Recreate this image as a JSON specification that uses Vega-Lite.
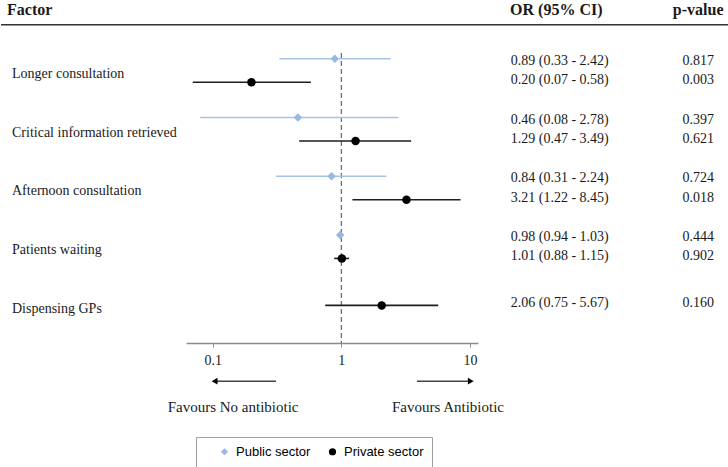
{
  "$schema": "https://vega.github.io/schema/vega-lite/v6.json",
  "padding": 0,
  "background": "white",
  "spacing": 0,
  "bounds": "flush",
  "resolve": {"scale": {"x": "independent", "y": "independent"}},
  "config": {
    "view": {"stroke": null},
    "font": "Liberation Serif",
    "text": {"font": "Liberation Serif", "fontSize": 14, "color": "#1a1a1a"}
  },
  "datasets": {
    "est": [
      {"factor": "Longer consultation", "sector": "Public sector", "row": 0.8, "or": 0.89, "lo": 0.33, "hi": 2.42, "ci": "0.89 (0.33 - 2.42)", "p": "0.817"},
      {"factor": "Longer consultation", "sector": "Private sector", "row": 1.2, "or": 0.20, "lo": 0.07, "hi": 0.58, "ci": "0.20 (0.07 - 0.58)", "p": "0.003"},
      {"factor": "Critical information retrieved", "sector": "Public sector", "row": 1.8, "or": 0.46, "lo": 0.08, "hi": 2.78, "ci": "0.46 (0.08 - 2.78)", "p": "0.397"},
      {"factor": "Critical information retrieved", "sector": "Private sector", "row": 2.2, "or": 1.29, "lo": 0.47, "hi": 3.49, "ci": "1.29 (0.47 - 3.49)", "p": "0.621"},
      {"factor": "Afternoon consultation", "sector": "Public sector", "row": 2.8, "or": 0.84, "lo": 0.31, "hi": 2.24, "ci": "0.84 (0.31 - 2.24)", "p": "0.724"},
      {"factor": "Afternoon consultation", "sector": "Private sector", "row": 3.2, "or": 3.21, "lo": 1.22, "hi": 8.45, "ci": "3.21 (1.22 - 8.45)", "p": "0.018"},
      {"factor": "Patients waiting", "sector": "Public sector", "row": 3.8, "or": 0.98, "lo": 0.94, "hi": 1.03, "ci": "0.98 (0.94 - 1.03)", "p": "0.444"},
      {"factor": "Patients waiting", "sector": "Private sector", "row": 4.2, "or": 1.01, "lo": 0.88, "hi": 1.15, "ci": "1.01 (0.88 - 1.15)", "p": "0.902"},
      {"factor": "Dispensing GPs", "sector": "Private sector", "row": 5.0, "or": 2.06, "lo": 0.75, "hi": 5.67, "ci": "2.06 (0.75 - 5.67)", "p": "0.160"}
    ],
    "groups": [
      {"factor": "Longer consultation", "row": 1},
      {"factor": "Critical information retrieved", "row": 2},
      {"factor": "Afternoon consultation", "row": 3},
      {"factor": "Patients waiting", "row": 4},
      {"factor": "Dispensing GPs", "row": 5}
    ],
    "one": [{}]
  },
  "hconcat": [
    {
      "width": 185,
      "height": 343,
      "layer": [
        {
          "data": {"name": "one"},
          "mark": {"type": "rule", "color": "#333333", "strokeWidth": 1.5},
          "encoding": {"y": {"datum": 0.22, "type": "quantitative", "scale": {"domain": [-0.201, 5.64], "reverse": true, "nice": false, "zero": false}, "axis": null}}
        },
        {
          "data": {"name": "one"},
          "mark": {"type": "text", "align": "left", "baseline": "middle", "fontWeight": "bold", "fontSize": 16, "dx": 6, "dy": -2},
          "encoding": {
            "x": {"datum": 0, "type": "quantitative", "scale": {"domain": [0, 1]}, "axis": null},
            "y": {"datum": 0, "type": "quantitative"},
            "text": {"value": "Factor"}
          }
        },
        {
          "data": {"name": "groups"},
          "mark": {"type": "text", "align": "left", "baseline": "middle", "dx": 11, "dy": 3.5},
          "encoding": {
            "x": {"datum": 0, "type": "quantitative", "scale": {"domain": [0, 1]}, "axis": null},
            "y": {"field": "row", "type": "quantitative"},
            "text": {"field": "factor"}
          }
        }
      ]
    },
    {
      "width": 292,
      "height": 343,
      "layer": [
        {
          "data": {"name": "one"},
          "mark": {"type": "rule", "color": "#333333", "strokeWidth": 1.5},
          "encoding": {"y": {"datum": 0.22, "type": "quantitative", "scale": {"domain": [-0.201, 5.64], "reverse": true, "nice": false, "zero": false}, "axis": null}}
        },
        {
          "data": {"name": "one"},
          "mark": {"type": "rule", "color": "#666666", "strokeWidth": 1.2, "strokeDash": [5, 3]},
          "encoding": {
            "x": {"datum": 1, "type": "quantitative", "scale": {"type": "log", "domain": [0.062, 11.55], "nice": false},
              "axis": {"values": [0.1, 1, 10], "format": "~g", "title": null, "grid": false, "domainColor": "#8c8c8c", "domainWidth": 1.5, "tickColor": "#8c8c8c", "tickSize": 4, "labelFont": "Liberation Serif", "labelFontSize": 14, "labelColor": "#222222", "labelPadding": 6, "labelFlush": false}},
            "y": {"datum": 0.7, "type": "quantitative"},
            "y2": {"datum": 5.64}
          }
        },
        {
          "data": {"name": "est"},
          "transform": [{"filter": "datum.sector == 'Public sector'"}],
          "mark": {"type": "rule", "strokeWidth": 1.6, "color": "#a9c3e6"},
          "encoding": {
            "x": {"field": "lo", "type": "quantitative"},
            "x2": {"field": "hi"},
            "y": {"field": "row", "type": "quantitative"}
          }
        },
        {
          "data": {"name": "est"},
          "transform": [{"filter": "datum.sector == 'Private sector'"}],
          "mark": {"type": "rule", "strokeWidth": 1.6, "color": "#1e1e1e"},
          "encoding": {
            "x": {"field": "lo", "type": "quantitative"},
            "x2": {"field": "hi"},
            "y": {"field": "row", "type": "quantitative"}
          }
        },
        {
          "data": {"name": "est"},
          "mark": {"type": "point", "filled": true, "opacity": 1, "size": 72},
          "encoding": {
            "x": {"field": "or", "type": "quantitative"},
            "y": {"field": "row", "type": "quantitative"},
            "color": {
              "field": "sector", "type": "nominal",
              "scale": {"domain": ["Public sector", "Private sector"], "range": ["#9ab7e0", "#000000"]},
              "legend": {"title": null, "orient": "none", "legendX": 195, "legendY": 437, "direction": "horizontal", "strokeColor": "#a0a0a0", "fillColor": "white", "padding": 8, "labelFont": "Liberation Sans", "labelFontSize": 13, "labelColor": "#000000", "symbolSize": 52, "symbolOffset": 14, "labelOffset": 5, "columnPadding": 1, "symbolStrokeWidth": 0, "labelExpr": "datum.label == 'Private sector' ? datum.label + '\u00a0\u00a0\u00a0\u00a0\u00a0\u00a0' : datum.label"}
            },
            "shape": {"field": "sector", "type": "nominal", "scale": {"domain": ["Public sector", "Private sector"], "range": ["diamond", "circle"]}}
          }
        },
        {
          "data": {"name": "one"},
          "mark": {"type": "rule", "color": "#444444", "strokeWidth": 1.5},
          "encoding": {"x": {"datum": 0.311, "type": "quantitative"}, "x2": {"datum": 0.1034}, "y": {"datum": 6.29, "type": "quantitative"}}
        },
        {
          "data": {"name": "one"},
          "mark": {"type": "rule", "color": "#444444", "strokeWidth": 1.5},
          "encoding": {"x": {"datum": 3.87, "type": "quantitative"}, "x2": {"datum": 10.15}, "y": {"datum": 6.29, "type": "quantitative"}}
        },
        {
          "data": {"name": "one"},
          "mark": {"type": "point", "shape": "triangle-left", "filled": true, "color": "#000000", "opacity": 1, "size": 45},
          "encoding": {"x": {"datum": 0.1034, "type": "quantitative"}, "y": {"datum": 6.29, "type": "quantitative"}}
        },
        {
          "data": {"name": "one"},
          "mark": {"type": "point", "shape": "triangle-right", "filled": true, "color": "#000000", "opacity": 1, "size": 45},
          "encoding": {"x": {"datum": 10.15, "type": "quantitative"}, "y": {"datum": 6.29, "type": "quantitative"}}
        },
        {
          "data": {"name": "one"},
          "mark": {"type": "text", "align": "center", "baseline": "middle", "fontSize": 15},
          "encoding": {"x": {"datum": 0.144, "type": "quantitative"}, "y": {"datum": 6.73, "type": "quantitative"}, "text": {"value": "Favours No antibiotic"}}
        },
        {
          "data": {"name": "one"},
          "mark": {"type": "text", "align": "center", "baseline": "middle", "fontSize": 15},
          "encoding": {"x": {"datum": 6.75, "type": "quantitative"}, "y": {"datum": 6.73, "type": "quantitative"}, "text": {"value": "Favours Antibiotic"}}
        }
      ]
    },
    {
      "width": 174,
      "height": 343,
      "layer": [
        {
          "data": {"name": "one"},
          "mark": {"type": "rule", "color": "#333333", "strokeWidth": 1.5},
          "encoding": {"y": {"datum": 0.22, "type": "quantitative", "scale": {"domain": [-0.201, 5.64], "reverse": true, "nice": false, "zero": false}, "axis": null}}
        },
        {
          "data": {"name": "one"},
          "mark": {"type": "text", "align": "center", "baseline": "middle", "fontWeight": "bold", "fontSize": 16, "dy": -2},
          "encoding": {
            "x": {"datum": 0.45, "type": "quantitative", "scale": {"domain": [0, 1]}, "axis": null},
            "y": {"datum": 0, "type": "quantitative"},
            "text": {"value": "OR (95% CI)"}
          }
        },
        {
          "data": {"name": "est"},
          "transform": [{"filter": "datum.sector == 'Public sector'"}],
          "mark": {"type": "text", "align": "center", "baseline": "middle", "dy": 2},
          "encoding": {
            "x": {"datum": 0.47, "type": "quantitative"},
            "y": {"field": "row", "type": "quantitative"},
            "text": {"field": "ci"}
          }
        },
        {
          "data": {"name": "est"},
          "transform": [{"filter": "datum.sector == 'Private sector'"}],
          "mark": {"type": "text", "align": "center", "baseline": "middle", "dy": -2},
          "encoding": {
            "x": {"datum": 0.47, "type": "quantitative"},
            "y": {"field": "row", "type": "quantitative"},
            "text": {"field": "ci"}
          }
        }
      ]
    },
    {
      "width": 77,
      "height": 343,
      "layer": [
        {
          "data": {"name": "one"},
          "mark": {"type": "rule", "color": "#333333", "strokeWidth": 1.5},
          "encoding": {"y": {"datum": 0.22, "type": "quantitative", "scale": {"domain": [-0.201, 5.64], "reverse": true, "nice": false, "zero": false}, "axis": null}}
        },
        {
          "data": {"name": "one"},
          "mark": {"type": "text", "align": "center", "baseline": "middle", "fontWeight": "bold", "fontSize": 16, "dy": -2},
          "encoding": {
            "x": {"datum": 0.6, "type": "quantitative", "scale": {"domain": [0, 1]}, "axis": null},
            "y": {"datum": 0, "type": "quantitative"},
            "text": {"value": "p-value"}
          }
        },
        {
          "data": {"name": "est"},
          "transform": [{"filter": "datum.sector == 'Public sector'"}],
          "mark": {"type": "text", "align": "center", "baseline": "middle", "dy": 2},
          "encoding": {
            "x": {"datum": 0.6, "type": "quantitative"},
            "y": {"field": "row", "type": "quantitative"},
            "text": {"field": "p"}
          }
        },
        {
          "data": {"name": "est"},
          "transform": [{"filter": "datum.sector == 'Private sector'"}],
          "mark": {"type": "text", "align": "center", "baseline": "middle", "dy": -2},
          "encoding": {
            "x": {"datum": 0.6, "type": "quantitative"},
            "y": {"field": "row", "type": "quantitative"},
            "text": {"field": "p"}
          }
        }
      ]
    }
  ]
}
